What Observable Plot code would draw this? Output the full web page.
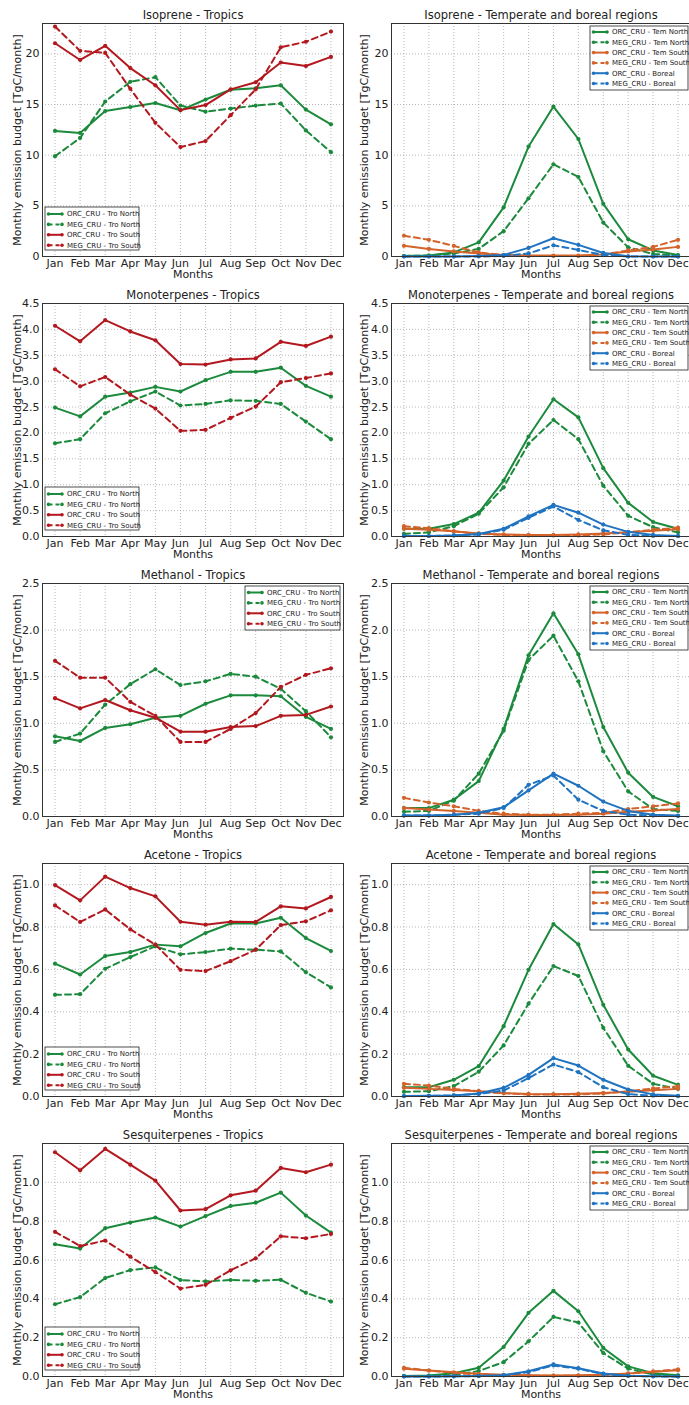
<!DOCTYPE html>
<html><head><meta charset="utf-8">
<script src="https://cdn.jsdelivr.net/npm/d3@7"></script>
<script src="https://cdn.jsdelivr.net/npm/@observablehq/plot@0.6"></script>
<style>
body{margin:0;background:#fff;}
#root{position:relative;width:689px;height:1405px;overflow:hidden;background:#fff;font-family:"DejaVu Sans",sans-serif;}
#root svg{position:absolute;}
</style></head><body><div id="root"></div>
<script>
const months = ["Jan","Feb","Mar","Apr","May","Jun","Jul","Aug","Sep","Oct","Nov","Dec"];
const yLabel = "Monthly emission budget [TgC/month]";
const xLabel = "Months";

// Isoprene
const iso_tro_orc_n = [12.4,12.2,14.36,14.75,15.15,14.43,15.5,16.46,16.6,16.9,14.5,13.05];
const iso_tro_meg_n = [9.9,11.7,15.3,17.25,17.7,14.9,14.3,14.6,14.9,15.1,12.45,10.3];
const iso_tro_orc_s = [21.05,19.4,20.8,18.6,16.9,14.45,14.95,16.5,17.2,19.15,18.8,19.7];
const iso_tro_meg_s = [22.7,20.3,20.1,16.55,13.2,10.8,11.4,13.95,16.5,20.65,21.2,22.2];
const iso_tem_orc_n = [0.05,0.1,0.4,1.4,4.85,10.85,14.8,11.6,5.2,1.7,0.6,0.15];
const iso_tem_meg_n = [0.05,0.1,0.3,0.75,2.5,5.75,9.1,7.85,3.35,0.9,0.25,0.1];
const iso_tem_orc_s = [1.05,0.75,0.5,0.3,0.15,0.1,0.1,0.1,0.2,0.5,0.7,0.95];
const iso_tem_meg_s = [2.05,1.65,1.05,0.4,0.15,0.05,0.05,0.05,0.2,0.6,0.95,1.65];
const iso_bor_orc = [0,0,0,0.05,0.15,0.85,1.8,1.15,0.35,0.02,0,0];
const iso_bor_meg = [0,0,0,0,0.05,0.3,1.1,0.65,0.15,0,0,0];

// Monoterpenes
const mono_tro_orc_n = [2.49,2.32,2.70,2.78,2.89,2.80,3.02,3.18,3.18,3.26,2.91,2.70];
const mono_tro_meg_n = [1.80,1.88,2.38,2.61,2.80,2.53,2.56,2.63,2.62,2.56,2.22,1.88];
const mono_tro_orc_s = [4.07,3.77,4.18,3.96,3.79,3.33,3.32,3.42,3.44,3.76,3.68,3.86];
const mono_tro_meg_s = [3.23,2.90,3.08,2.74,2.47,2.04,2.06,2.29,2.51,2.98,3.06,3.15];
const mono_tem_orc_n = [0.15,0.15,0.24,0.46,1.08,1.93,2.65,2.30,1.32,0.65,0.28,0.15];
const mono_tem_meg_n = [0.05,0.08,0.2,0.44,0.95,1.79,2.25,1.88,0.98,0.40,0.18,0.08];
const mono_tem_orc_s = [0.15,0.13,0.1,0.06,0.04,0.03,0.03,0.04,0.06,0.08,0.11,0.14];
const mono_tem_meg_s = [0.2,0.16,0.1,0.05,0.03,0.02,0.02,0.02,0.04,0.08,0.13,0.17];
const mono_bor_orc = [0.01,0.01,0.02,0.05,0.15,0.39,0.61,0.46,0.23,0.09,0.03,0.01];
const mono_bor_meg = [0.01,0.01,0.02,0.04,0.13,0.36,0.58,0.32,0.12,0.03,0.01,0.01];

// Methanol
const meth_tro_orc_n = [0.86,0.81,0.95,0.99,1.06,1.08,1.21,1.30,1.30,1.29,1.07,0.94];
const meth_tro_meg_n = [0.80,0.89,1.20,1.42,1.58,1.41,1.45,1.53,1.50,1.37,1.13,0.85];
const meth_tro_orc_s = [1.27,1.16,1.25,1.14,1.06,0.91,0.91,0.96,0.97,1.08,1.09,1.18];
const meth_tro_meg_s = [1.67,1.49,1.49,1.23,1.08,0.80,0.80,0.94,1.11,1.39,1.52,1.59];
const meth_tem_orc_n = [0.09,0.09,0.18,0.38,0.94,1.73,2.18,1.74,0.96,0.47,0.21,0.11];
const meth_tem_meg_n = [0.05,0.06,0.17,0.46,0.92,1.68,1.94,1.45,0.70,0.27,0.08,0.06];
const meth_tem_orc_s = [0.09,0.075,0.06,0.04,0.02,0.015,0.015,0.02,0.03,0.05,0.065,0.08];
const meth_tem_meg_s = [0.20,0.15,0.11,0.06,0.03,0.02,0.02,0.03,0.04,0.08,0.11,0.14];
const meth_bor_orc = [0.01,0.01,0.02,0.04,0.10,0.28,0.46,0.33,0.16,0.06,0.02,0.01];
const meth_bor_meg = [0.01,0.01,0.02,0.03,0.09,0.34,0.44,0.18,0.06,0.02,0.01,0.005];

// Acetone
const acet_tro_orc_n = [0.627,0.576,0.663,0.682,0.717,0.709,0.772,0.817,0.817,0.844,0.748,0.687];
const acet_tro_meg_n = [0.48,0.483,0.603,0.658,0.709,0.671,0.682,0.698,0.693,0.685,0.587,0.515];
const acet_tro_orc_s = [0.998,0.926,1.038,0.984,0.945,0.825,0.811,0.825,0.824,0.898,0.888,0.942];
const acet_tro_meg_s = [0.902,0.824,0.883,0.789,0.717,0.598,0.592,0.639,0.693,0.809,0.827,0.879];
const acet_tem_orc_n = [0.044,0.044,0.079,0.143,0.332,0.598,0.814,0.718,0.433,0.222,0.098,0.055];
const acet_tem_meg_n = [0.022,0.025,0.049,0.117,0.241,0.438,0.616,0.569,0.324,0.145,0.06,0.036];
const acet_tem_orc_s = [0.041,0.036,0.031,0.025,0.016,0.012,0.011,0.013,0.017,0.022,0.029,0.036];
const acet_tem_meg_s = [0.06,0.052,0.036,0.025,0.015,0.01,0.009,0.01,0.014,0.025,0.038,0.048];
const acet_bor_orc = [0.002,0.003,0.005,0.014,0.041,0.102,0.181,0.146,0.079,0.033,0.01,0.003];
const acet_bor_meg = [0.002,0.003,0.005,0.012,0.028,0.087,0.151,0.115,0.044,0.011,0.004,0.002];

// Sesquiterpenes
const sesq_tro_orc_n = [0.681,0.659,0.764,0.793,0.819,0.772,0.826,0.878,0.895,0.947,0.829,0.741];
const sesq_tro_meg_n = [0.372,0.409,0.507,0.548,0.562,0.497,0.49,0.497,0.493,0.498,0.431,0.386];
const sesq_tro_orc_s = [1.155,1.062,1.172,1.091,1.009,0.855,0.862,0.933,0.957,1.074,1.052,1.091];
const sesq_tro_meg_s = [0.745,0.672,0.7,0.617,0.538,0.453,0.472,0.547,0.609,0.722,0.712,0.734];
const sesq_tem_orc_n = [0.003,0.005,0.017,0.045,0.152,0.328,0.441,0.336,0.147,0.052,0.017,0.006];
const sesq_tem_meg_n = [0.002,0.003,0.007,0.028,0.074,0.181,0.307,0.278,0.121,0.04,0.01,0.004];
const sesq_tem_orc_s = [0.04,0.031,0.022,0.014,0.009,0.006,0.005,0.006,0.009,0.016,0.024,0.032];
const sesq_tem_meg_s = [0.045,0.031,0.019,0.01,0.006,0.004,0.004,0.004,0.007,0.014,0.026,0.037];
const sesq_bor_orc = [0,0,0.001,0.003,0.007,0.027,0.062,0.043,0.015,0.004,0.001,0];
const sesq_bor_meg = [0,0,0.001,0.002,0.006,0.023,0.057,0.04,0.012,0.003,0.001,0];

const troLabels = ["ORC_CRU - Tro North","MEG_CRU - Tro North","ORC_CRU - Tro South","MEG_CRU - Tro South"];
const temLabels = ["ORC_CRU - Tem North","MEG_CRU - Tem North","ORC_CRU - Tem South","MEG_CRU - Tem South","ORC_CRU - Boreal","MEG_CRU - Boreal"];
const troColors = ["#1b8a3c","#1b8a3c","#b2181e","#b2181e"];
const temColors = ["#1b8a3c","#1b8a3c","#d3632a","#d3632a","#1f73c0","#1f73c0"];
const dashedFlags = [false,true,false,true,false,true];

const yTicksIso = [0,5,10,15,20];
const yTicksMono = [0,0.5,1,1.5,2,2.5,3,3.5,4,4.5];
const yTicksMeth = [0,0.5,1,1.5,2,2.5];
const yTicksSmall = [0,0.2,0.4,0.6,0.8,1.0];

const panels = [
  {title:"Isoprene - Tropics", row:0, col:0, yMax:23, ticks:yTicksIso, fmt:d3.format("d"), series:[iso_tro_orc_n,iso_tro_meg_n,iso_tro_orc_s,iso_tro_meg_s], legend:"ll"},
  {title:"Isoprene - Temperate and boreal regions", row:0, col:1, yMax:23, ticks:yTicksIso, fmt:d3.format("d"), series:[iso_tem_orc_n,iso_tem_meg_n,iso_tem_orc_s,iso_tem_meg_s,iso_bor_orc,iso_bor_meg], legend:"ur"},
  {title:"Monoterpenes - Tropics", row:1, col:0, yMax:4.5, ticks:yTicksMono, fmt:d3.format(".1f"), series:[mono_tro_orc_n,mono_tro_meg_n,mono_tro_orc_s,mono_tro_meg_s], legend:"ll"},
  {title:"Monoterpenes - Temperate and boreal regions", row:1, col:1, yMax:4.5, ticks:yTicksMono, fmt:d3.format(".1f"), series:[mono_tem_orc_n,mono_tem_meg_n,mono_tem_orc_s,mono_tem_meg_s,mono_bor_orc,mono_bor_meg], legend:"ur"},
  {title:"Methanol - Tropics", row:2, col:0, yMax:2.5, ticks:yTicksMeth, fmt:d3.format(".1f"), series:[meth_tro_orc_n,meth_tro_meg_n,meth_tro_orc_s,meth_tro_meg_s], legend:"ur"},
  {title:"Methanol - Temperate and boreal regions", row:2, col:1, yMax:2.5, ticks:yTicksMeth, fmt:d3.format(".1f"), series:[meth_tem_orc_n,meth_tem_meg_n,meth_tem_orc_s,meth_tem_meg_s,meth_bor_orc,meth_bor_meg], legend:"ur"},
  {title:"Acetone - Tropics", row:3, col:0, yMax:1.1, ticks:yTicksSmall, fmt:d3.format(".1f"), series:[acet_tro_orc_n,acet_tro_meg_n,acet_tro_orc_s,acet_tro_meg_s], legend:"ll"},
  {title:"Acetone - Temperate and boreal regions", row:3, col:1, yMax:1.1, ticks:yTicksSmall, fmt:d3.format(".1f"), series:[acet_tem_orc_n,acet_tem_meg_n,acet_tem_orc_s,acet_tem_meg_s,acet_bor_orc,acet_bor_meg], legend:"ur"},
  {title:"Sesquiterpenes - Tropics", row:4, col:0, yMax:1.2, ticks:yTicksSmall, fmt:d3.format(".1f"), series:[sesq_tro_orc_n,sesq_tro_meg_n,sesq_tro_orc_s,sesq_tro_meg_s], legend:"ll"},
  {title:"Sesquiterpenes - Temperate and boreal regions", row:4, col:1, yMax:1.2, ticks:yTicksSmall, fmt:d3.format(".1f"), series:[sesq_tem_orc_n,sesq_tem_meg_n,sesq_tem_orc_s,sesq_tem_meg_s,sesq_bor_orc,sesq_bor_meg], legend:"ur"}
];

const root = document.getElementById("root");
const ROW_H = 280, MT = 23, MB = 24;

panels.forEach(p => {
  const labels = p.col === 0 ? troLabels : temLabels;
  const colors = p.col === 0 ? troColors : temColors;
  const ml = p.col === 0 ? 42 : 46;
  const mr = p.col === 0 ? 2 : 0;
  const W = 345;
  const marks = [
    Plot.gridX(d3.range(1,13), {stroke:"#8a8a8a", strokeOpacity:1, strokeWidth:0.6, strokeDasharray:"1,2"}),
    Plot.gridY(p.ticks, {stroke:"#8a8a8a", strokeOpacity:1, strokeWidth:0.6, strokeDasharray:"1,2"})
  ];
  p.series.forEach((vals, i) => {
    const data = vals.map((v, j) => ({month: j + 1, value: v}));
    marks.push(Plot.line(data, {x:"month", y:"value", stroke:colors[i], strokeWidth:2, strokeDasharray: dashedFlags[i] ? "6,4" : null}));
    marks.push(Plot.dot(data, {x:"month", y:"value", r:2.1, fill:colors[i], stroke:"none"}));
  });
  marks.push(Plot.frame({stroke:"#333", strokeWidth:1}));
  marks.push(Plot.axisX(d3.range(1,13), {tickFormat:d => months[d-1], tickSize:0, tickPadding:3, fontSize:11, label:null, fill:"#222"}));
  marks.push(Plot.axisY(p.ticks, {tickFormat:p.fmt, tickSize:0, tickPadding:3, fontSize:11, label:null, fill:"#222"}));
  marks.push(Plot.text([p.title], {frameAnchor:"top", dy:-8, lineAnchor:"middle", textAnchor:"middle", fontSize:11.5, fill:"#222"}));
  marks.push(Plot.text([xLabel], {frameAnchor:"bottom", dy:18, lineAnchor:"middle", textAnchor:"middle", fontSize:11, fill:"#222"}));
  marks.push(Plot.text([yLabel], {frameAnchor:"left", dx:p.col === 0 ? -25 : -27, rotate:-90, lineAnchor:"middle", textAnchor:"middle", fontSize:11, fill:"#222"}));

  const svg = Plot.plot({
    width: W, height: ROW_H,
    marginLeft: ml, marginRight: mr, marginTop: MT, marginBottom: MB,
    x: {type:"linear", domain:[0.5, 12.5]},
    y: {type:"linear", domain:[0, p.yMax]},
    style: {fontFamily:"DejaVu Sans, sans-serif", background:"white", overflow:"hidden"},
    marks
  });
  svg.style.left = (p.col === 0 ? 0 : 345) + "px";
  svg.style.top = (p.row * ROW_H) + "px";
  root.appendChild(svg);

  // legend box
  const plotH = ROW_H - MT - MB;
  let box;
  if (p.legend === "ll") {
    box = {x: ml + 3, y: MT + plotH - 6 - 43, w: 94, h: 43, first: 7, step: 10.4};
  } else if (p.col === 0) {
    box = {x: W - mr - 3 - 95, y: MT + 3, w: 95, h: 44, first: 6.5, step: 10.4};
  } else {
    box = {x: 245, y: MT + 3, w: 98, h: 64, first: 6, step: 10.3};
  }
  const g = d3.select(svg).append("g").attr("text-anchor", "start");
  g.append("rect").attr("x", box.x).attr("y", box.y).attr("width", box.w).attr("height", box.h)
    .attr("fill", "white").attr("stroke", "#222").attr("stroke-width", 0.8);
  labels.forEach((lab, i) => {
    const cy = box.y + box.first + i * box.step;
    const x0 = box.x + 3.5, x1 = box.x + 17;
    g.append("line").attr("x1", x0).attr("x2", x1).attr("y1", cy).attr("y2", cy)
      .attr("stroke", colors[i]).attr("stroke-width", 2)
      .attr("stroke-dasharray", dashedFlags[i] ? "4,3" : null);
    [x0, x1].forEach(cx => g.append("circle").attr("cx", cx).attr("cy", cy).attr("r", 1.8).attr("fill", colors[i]));
    g.append("text").attr("x", box.x + 22).attr("y", cy).attr("dy", "0.35em")
      .attr("text-anchor", "start")
      .attr("font-size", 7).attr("fill", "#222").attr("font-family", "DejaVu Sans, sans-serif").text(lab);
  });
});
</script></body></html>
